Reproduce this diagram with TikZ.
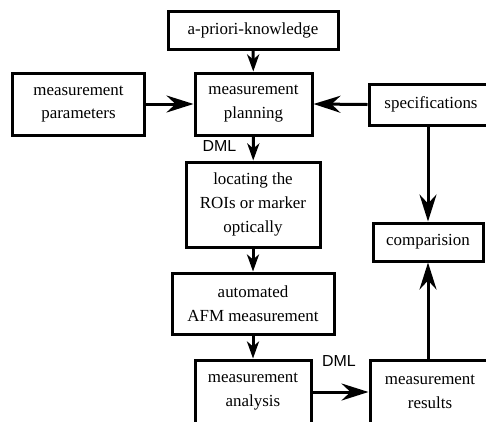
\documentclass[tikz,border=0pt]{standalone}
\usepackage{fontspec}
\setmainfont{Liberation Serif}
\newfontfamily\dmlfont{Liberation Sans}
\usetikzlibrary{arrows.meta}

\begin{document}
\begin{tikzpicture}[x=1bp,y=-1bp,
 box/.style={draw=black, line width=3bp, align=center, inner sep=0pt, font=\fontsize{17}{24}\selectfont},
 dml/.style={font=\dmlfont\fontsize{16}{19}\selectfont, inner sep=0pt},
 longarrow/.style={-{Stealth[length=27bp,width=17bp,inset=9bp]}, line width=3bp},
 shortarrow/.style={-{Stealth[length=17bp,width=12bp,inset=5bp]}, line width=3bp}]
 \path[use as bounding box] (0,0) rectangle (486,421);

\node[box, minimum width=170bp, minimum height=38bp] (prior) at (253,30) {a-priori-knowledge};
\node[box, minimum width=117bp, minimum height=62bp] (planning) at (253.5,104) {measurement\\planning};
\node[box, minimum width=131bp, minimum height=62bp] (params) at (78.5,104) {measurement\\parameters};
\node[box, minimum width=124bp, minimum height=41bp] (specs) at (431,104.5) {specifications};
\node[box, minimum width=134bp, minimum height=85bp] (locating) at (253,204.5) {locating the\\ROIs or marker\\optically};
\node[box, minimum width=110bp, minimum height=38bp] (comp) at (428,242) {comparision};
\node[box, minimum width=162bp, minimum height=61bp] (afm) at (253,303.5) {automated\\AFM measurement};
\node[box, minimum width=116bp, minimum height=64bp] (analysis) at (253,392) {measurement\\analysis};
\node[box, minimum width=120bp, minimum height=64bp] (results) at (430,392) {measurement\\results};

\node[dml] (dmlplan) at (219.5,146) {DML};
\node[dml] (dmlres) at (339,361) {DML};

\draw[shortarrow] (prior) -- (planning);
\draw[longarrow] (params) -- (planning);
\draw[longarrow] (specs.west) -- (planning.east);
\draw[shortarrow] (planning) -- (locating);
\draw[shortarrow] (locating) -- (afm);
\draw[shortarrow] (afm) -- (analysis);
\draw[longarrow] (analysis.east) -- (results.west |- analysis.east);
\draw[longarrow] (specs.south -| comp.north) -- (comp.north);
\draw[longarrow] (results.north -| comp.south) -- (comp.south);

\end{tikzpicture}
\end{document}
